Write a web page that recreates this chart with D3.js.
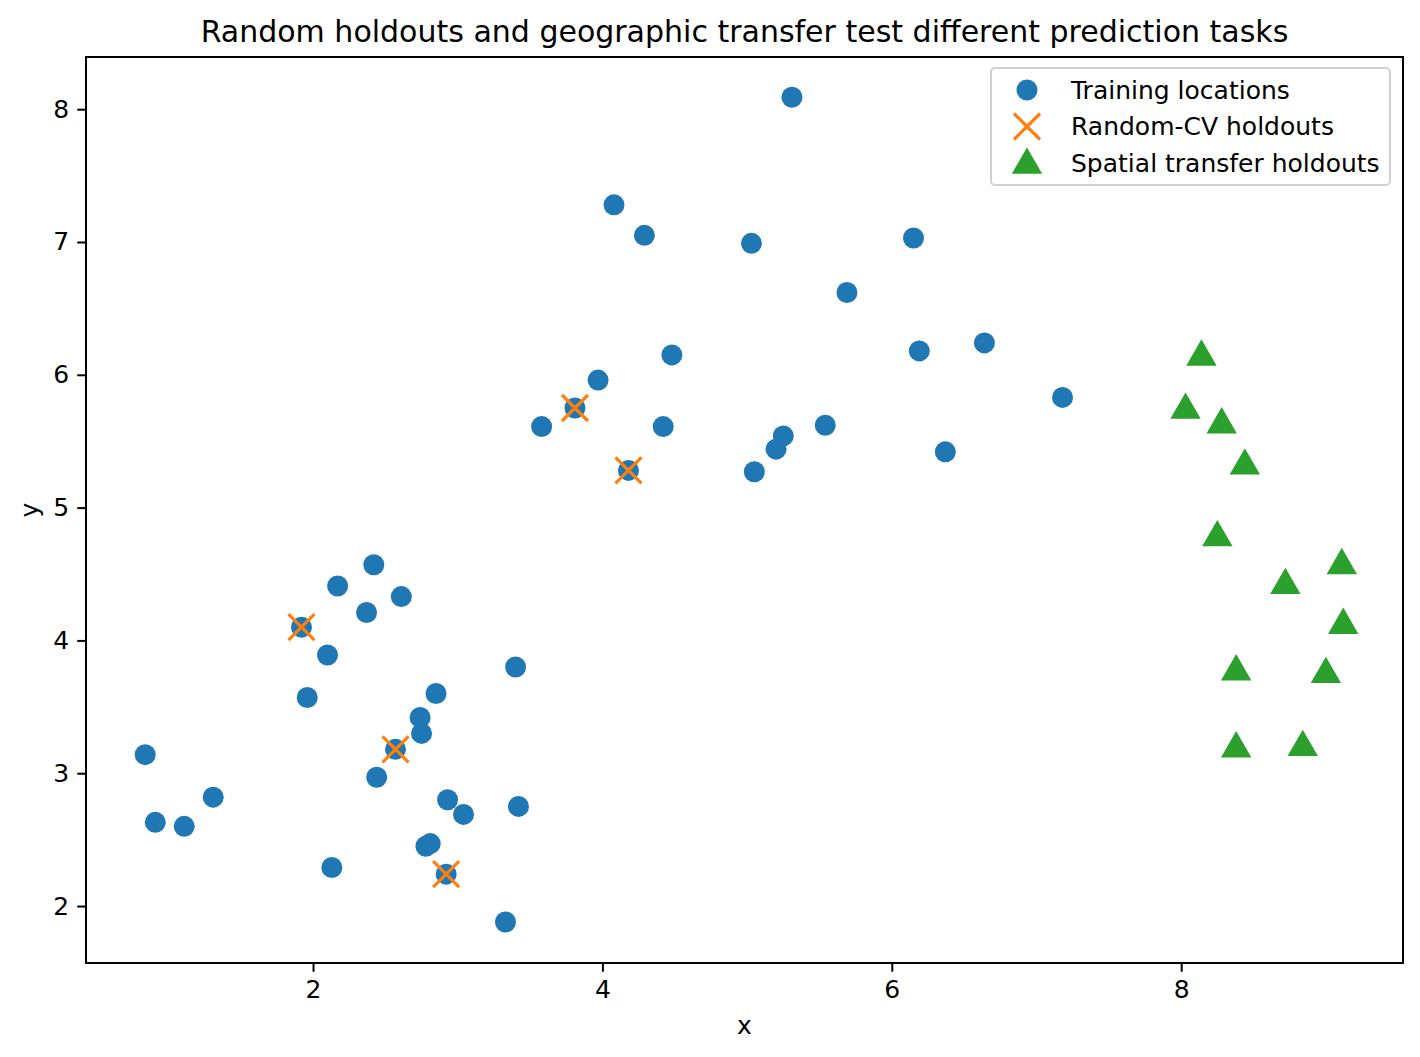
<!DOCTYPE html>
<html>
<head>
<meta charset="utf-8">
<script src="https://cdn.jsdelivr.net/npm/d3@7"></script>
<style>
  body { margin: 0; background: #fff; }
  svg text { font-family: "DejaVu Sans", sans-serif; fill: #000; }
</style>
</head>
<body>
<div id="chart"></div>
<script>
// Training locations (blue circles)
const trainX = [0.84, 0.91, 1.11, 1.31, 1.96, 2.10, 2.17, 2.13, 2.37, 2.42, 2.61, 2.44, 2.57, 1.92,
  2.74, 2.75, 2.85, 2.78, 2.81, 2.92, 2.93, 3.04, 3.33, 3.42, 3.40, 3.58, 3.81, 3.97, 4.08, 4.18,
  4.29, 4.42, 4.48, 5.03, 5.05, 5.20, 5.25, 5.31, 5.54, 5.69, 6.15, 6.19, 6.37, 6.64, 7.18];
const trainY = [3.14, 2.63, 2.60, 2.82, 3.57, 3.89, 4.41, 2.29, 4.21, 4.57, 4.33, 2.97, 3.18, 4.10,
  3.42, 3.30, 3.60, 2.45, 2.47, 2.24, 2.80, 2.69, 1.88, 2.75, 3.80, 5.61, 5.75, 5.96, 7.28, 5.28,
  7.05, 5.61, 6.15, 6.99, 5.27, 5.44, 5.54, 8.09, 5.62, 6.62, 7.03, 6.18, 5.42, 6.24, 5.83];

// Random-CV holdouts (orange crosses)
const cvX = [1.92, 2.57, 2.92, 3.81, 4.18];
const cvY = [4.10, 3.18, 2.24, 5.75, 5.28];

// Spatial transfer holdouts (green triangles)
const spX = [8.14, 8.03, 8.28, 8.44, 8.25, 8.72, 9.11, 9.12, 8.38, 9.00, 8.38, 8.84];
const spY = [6.15, 5.75, 5.64, 5.33, 4.79, 4.43, 4.58, 4.13, 3.78, 3.76, 3.20, 3.21];

const xTicks = [2, 4, 6, 8];
const yTicks = [2, 3, 4, 5, 6, 7, 8];

const W = 1420, H = 1057;
const margin = { left: 86, right: 17, top: 57, bottom: 94 };
const pw = W - margin.left - margin.right;
const ph = H - margin.top - margin.bottom;
const fs = 25; // tick / legend / label font size

const svg = d3.select("#chart").append("svg").attr("width", W).attr("height", H);
const g = svg.append("g").attr("transform", `translate(${margin.left},${margin.top})`);

const x = d3.scaleLinear().domain([0.431, 9.533]).range([0, pw]);
const y = d3.scaleLinear().domain([1.571, 8.393]).range([ph, 0]);

// axes
const xAxis = g.append("g").attr("transform", `translate(0,${ph})`)
  .call(d3.axisBottom(x).tickValues(xTicks).tickSize(8.75).tickPadding(8).tickFormat(d3.format("d")));
const yAxis = g.append("g")
  .call(d3.axisLeft(y).tickValues(yTicks).tickSize(8.75).tickPadding(8).tickFormat(d3.format("d")));
[xAxis, yAxis].forEach(a => {
  a.attr("font-size", fs).attr("font-family", "DejaVu Sans");
  a.select(".domain").remove();
  a.selectAll("line").attr("stroke", "#000").attr("stroke-width", 2);
  a.selectAll("text").style("font-size", fs + "px");
});

g.append("rect").attr("width", pw).attr("height", ph)
  .attr("fill", "none").attr("stroke", "#000").attr("stroke-width", 2);

// training points
g.selectAll("circle.train").data(d3.range(trainX.length)).enter()
  .append("circle").attr("class", "train")
  .attr("cx", i => x(trainX[i])).attr("cy", i => y(trainY[i]))
  .attr("r", 10.5).attr("fill", "#1f77b4");

// crosses
const cs = 13;
const cross = g.selectAll("g.cv").data(d3.range(cvX.length)).enter()
  .append("g").attr("class", "cv")
  .attr("transform", i => `translate(${x(cvX[i])},${y(cvY[i])})`);
cross.append("line").attr("x1", -cs).attr("y1", -cs).attr("x2", cs).attr("y2", cs);
cross.append("line").attr("x1", -cs).attr("y1", cs).attr("x2", cs).attr("y2", -cs);
cross.selectAll("line").attr("stroke", "#ff7f0e").attr("stroke-width", 3.2);

// triangles
const tri = d3.symbol().type(d3.symbolTriangle).size(400);
g.selectAll("path.sp").data(d3.range(spX.length)).enter()
  .append("path").attr("class", "sp")
  .attr("d", tri)
  .attr("transform", i => `translate(${x(spX[i])},${y(spY[i]) + 2})`)
  .attr("fill", "#2ca02c");

// title and axis labels
svg.append("text").attr("x", margin.left + pw / 2).attr("y", 42)
  .attr("text-anchor", "middle").style("font-size", "30px")
  .text("Random holdouts and geographic transfer test different prediction tasks");
svg.append("text").attr("x", margin.left + pw / 2).attr("y", 1034)
  .attr("text-anchor", "middle").style("font-size", fs + "px").text("x");
svg.append("text").attr("transform", `translate(38,${margin.top + ph / 2}) rotate(-90)`)
  .attr("text-anchor", "middle").style("font-size", fs + "px").text("y");

// legend
const lg = svg.append("g").attr("transform", "translate(991,68)");
lg.append("rect").attr("width", 399).attr("height", 117).attr("rx", 4)
  .attr("fill", "#fff").attr("fill-opacity", 0.8).attr("stroke", "#d0d0d0").attr("stroke-width", 2);
const legendLabels = ["Training locations", "Random-CV holdouts", "Spatial transfer holdouts"];
legendLabels.forEach((t, i) => {
  const cy = 22 + i * 36.5;
  const row = lg.append("g").attr("transform", `translate(36,${cy})`);
  if (i === 0) row.append("circle").attr("r", 10.5).attr("fill", "#1f77b4");
  if (i === 1) {
    row.append("line").attr("x1", -cs).attr("y1", -cs).attr("x2", cs).attr("y2", cs)
      .attr("stroke", "#ff7f0e").attr("stroke-width", 3.2);
    row.append("line").attr("x1", -cs).attr("y1", cs).attr("x2", cs).attr("y2", -cs)
      .attr("stroke", "#ff7f0e").attr("stroke-width", 3.2);
  }
  if (i === 2) row.append("path").attr("d", tri).attr("transform", "translate(0,2)").attr("fill", "#2ca02c");
  lg.append("text").attr("x", 80).attr("y", cy).attr("dy", "0.35em")
    .style("font-size", fs + "px").text(t);
});
</script>
</body>
</html>
